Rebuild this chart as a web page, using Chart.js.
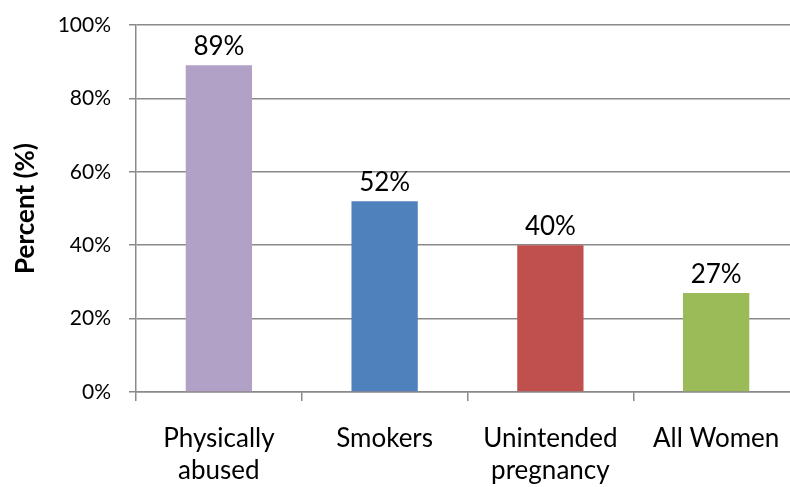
<!DOCTYPE html>
<html>
<head>
<meta charset="utf-8">
<script src="https://cdn.jsdelivr.net/npm/chart.js@4/dist/chart.umd.min.js"></script>
<style>
  html, body { margin: 0; padding: 0; overflow: hidden; background: #fff; }
  #wrap { position: relative; width: 800px; height: 487px; }
</style>
</head>
<body>
<div id="wrap"><canvas id="c" width="800" height="487"></canvas></div>
<script>
// Categories (multi-line labels) and their percentages
const categories = [
  ["Physically", "abused"],
  ["Smokers"],
  ["Unintended", "pregnancy"],
  ["All Women"]
];
const percentValues = [89, 52, 40, 27];
const barColors = ["#B2A1C7", "#4F81BD", "#C0504D", "#9BBB59"];
const yTickMin = 0;
const yTickMax = 100;
const yTickStep = 20;
const yAxisTitle = "Percent (%)";

const axisGray = "#8a8a8a";

// Writes the value above each bar
const valueLabels = {
  id: "valueLabels",
  afterDatasetsDraw(chart) {
    const ctx = chart.ctx;
    const meta = chart.getDatasetMeta(0);
    ctx.save();
    ctx.font = "26px Lato";
    ctx.fillStyle = "#000";
    ctx.textAlign = "center";
    ctx.textBaseline = "alphabetic";
    meta.data.forEach((bar, i) => {
      ctx.fillText(percentValues[i] + "%", bar.x, bar.y - 10);
    });
    ctx.restore();
  }
};

new Chart(document.getElementById("c"), {
  type: "bar",
  data: {
    labels: categories,
    datasets: [{
      data: percentValues,
      backgroundColor: barColors,
      borderWidth: 0,
      barPercentage: 0.4,
      categoryPercentage: 1.0
    }]
  },
  options: {
    responsive: false,
    animation: false,
    devicePixelRatio: 1,
    layout: { padding: { top: 25, right: 1, bottom: 0, left: 0 } },
    plugins: {
      legend: { display: false },
      tooltip: { enabled: false }
    },
    scales: {
      x: {
        grid: {
          offset: true,
          drawOnChartArea: false,
          drawTicks: true,
          tickLength: 9,
          color: axisGray,
          lineWidth: 1.5
        },
        border: { display: true, color: axisGray, width: 1.5 },
        ticks: {
          color: "#000",
          font: { family: "Lato", size: 26, lineHeight: 1.24 },
          padding: 21,
          maxRotation: 0,
          autoSkip: false
        },
        afterFit(scale) {
          scale.height = 95;
          scale.paddingLeft = 0;
          scale.paddingRight = 0;
        }
      },
      y: {
        min: yTickMin,
        max: yTickMax,
        grid: {
          drawOnChartArea: true,
          drawTicks: true,
          tickLength: 7,
          color: axisGray,
          lineWidth: 1.5
        },
        border: { display: true, color: axisGray, width: 1.5 },
        ticks: {
          stepSize: yTickStep,
          color: "#000",
          font: { family: "Lato", size: 21 },
          padding: 18,
          callback: (v) => v + "%"
        },
        title: {
          display: true,
          text: yAxisTitle,
          color: "#000",
          font: { family: "Lato", size: 26, weight: "bold" },
          padding: { top: 10, bottom: 0 }
        },
        afterFit(scale) {
          scale.width = 136;
          scale.paddingTop = 0;
          scale.paddingBottom = 0;
        }
      }
    }
  },
  plugins: [valueLabels]
});
</script>
</body>
</html>
